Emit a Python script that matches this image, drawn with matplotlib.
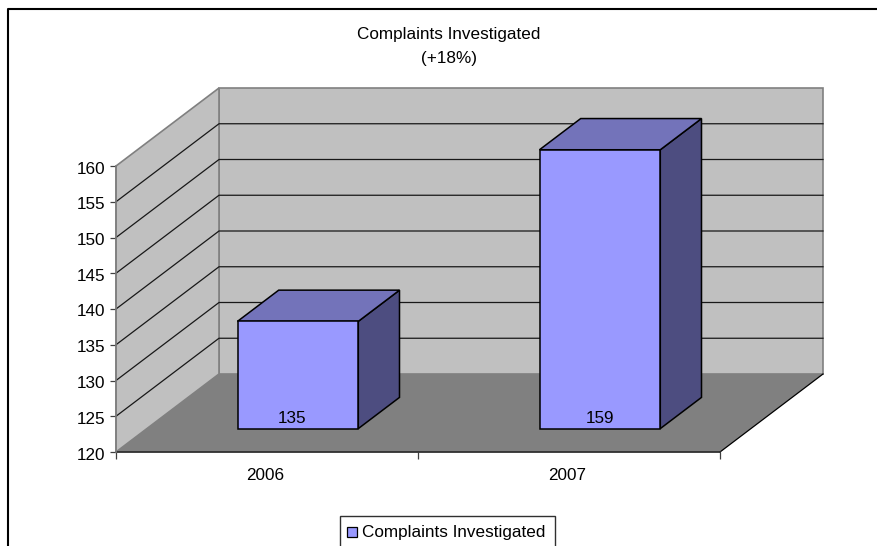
import matplotlib
matplotlib.use("Agg")
import matplotlib.pyplot as plt
from matplotlib.patches import Polygon, Rectangle
from matplotlib.transforms import ScaledTranslation

plt.rcParams["font.family"] = ["Liberation Sans", "DejaVu Sans"]

years = ["2006", "2007"]
complaints = [135, 159]
y_ticks = [120, 125, 130, 135, 140, 145, 150, 155, 160]
title_lines = ["Complaints Investigated", "(+18%)"]
series_name = "Complaints Investigated"

W, H = 877, 546
FONT = 12.3
fig = plt.figure(figsize=(W / 100, H / 100), dpi=100)

# axes covers the front plane of the 3d box, everything else is offset from it
ax = fig.add_axes([116 / W, 1 - 452 / H, 604 / W, 286 / H])
ax.set_xlim(0, len(years))
ax.set_ylim(y_ticks[0], y_ticks[-1])
ax.patch.set_visible(False)
for s in ax.spines.values():
    s.set_visible(False)

ymin, ymax = y_ticks[0], y_ticks[-1]
depth_x = 103 / 302
depth_y = 78 / 7.15


def poly(points, face, edge, lw=1.0, z=1):
    ax.add_patch(Polygon(points, closed=True, facecolor=face, edgecolor=edge,
                         linewidth=lw, zorder=z, clip_on=False, joinstyle="miter"))


def at_depth(x, y, d):
    return (x + d * depth_x, y + d * depth_y)


xmax = len(years)
# back wall, side wall, floor
poly([at_depth(0, ymin, 1), at_depth(xmax, ymin, 1), at_depth(xmax, ymax, 1), at_depth(0, ymax, 1)],
     "#c0c0c0", "#808080", 1.2)
poly([(0, ymin), at_depth(0, ymin, 1), at_depth(0, ymax, 1), (0, ymax)], "#c0c0c0", "#808080", 1.2)
poly([(0, ymin), (xmax, ymin), at_depth(xmax, ymin, 1), at_depth(0, ymin, 1)], "#808080", "none", 0)

# gridlines
for v in y_ticks[1:-1]:
    a, b, c = (0, v), at_depth(0, v, 1), at_depth(xmax, v, 1)
    ax.plot([a[0], b[0], c[0]], [a[1], b[1], c[1]], color="#181818", lw=0.9, zorder=2, clip_on=False)

# floor edges
b1, b2 = at_depth(xmax, ymin, 1), (xmax, ymin)
ax.plot([b2[0], b1[0]], [b2[1], b1[1]], color="black", lw=0.9, zorder=3, clip_on=False)
ax.plot([0, xmax], [ymin, ymin], color="#303030", lw=1.3, zorder=3, clip_on=False)
ax.plot([0, 0], [ymin, ymax], color="#808080", lw=1.2, zorder=3, clip_on=False)

# bars
bar_w = 0.4
d0, d1 = 0.3, 0.7
# the 2006 label sits a bit left of the bar centre in the original
label_shift = [-6, 0]
for i, val in enumerate(complaints):
    x0 = i + 0.5 - bar_w / 2
    x1 = x0 + bar_w
    f0 = at_depth(x0, ymin, d0)
    f1 = at_depth(x1, ymin, d0)
    top0 = at_depth(x0, val, d0)
    top1 = at_depth(x1, val, d0)
    back_top0 = at_depth(x0, val, d1)
    back_top1 = at_depth(x1, val, d1)
    back_bot1 = at_depth(x1, ymin, d1)
    poly([f1, back_bot1, back_top1, top1], "#4d4d80", "black", 1.1, 4)
    poly([top0, top1, back_top1, back_top0], "#7373ba", "black", 1.1, 4)
    poly([f0, f1, top1, top0], "#9999ff", "black", 1.1, 5)
    ax.annotate(str(val), ((f0[0] + f1[0]) / 2, f0[1]), xytext=(label_shift[i] * 0.72, 2.2),
                textcoords="offset points", ha="center", va="bottom",
                fontsize=FONT, color="black", zorder=6, annotation_clip=False)

ax.set_xticks(range(xmax + 1))
ax.set_xticklabels([])
ax.set_yticks(y_ticks)
ax.set_yticklabels([str(v) for v in y_ticks], fontsize=FONT)
ax.tick_params(axis="y", length=4.5, width=0.9, color="#404040", pad=3)
ax.tick_params(axis="x", length=5, width=0.9, color="#404040")
# y tick labels sit slightly under their ticks
nudge = ScaledTranslation(0, -1.5 / 100, fig.dpi_scale_trans)
for lab in ax.get_yticklabels():
    lab.set_transform(lab.get_transform() + nudge)
for i, y in enumerate(years):
    ax.annotate(y, (i + 0.5, ymin), xytext=(-1, -17), textcoords="offset points",
                ha="center", va="center", fontsize=FONT, annotation_clip=False)

fig.text(449 / W, 1 - 34 / H, title_lines[0], ha="center", va="center", fontsize=FONT)
fig.text(449 / W, 1 - 58 / H, title_lines[1], ha="center", va="center", fontsize=FONT)

# outer chart frame, left and top only are inside the crop
fig.add_artist(plt.Line2D([8 / W, 8 / W, 1],
                          [0, 1 - 9 / H, 1 - 9 / H], color="black", lw=1.5))

# legend box
fig.add_artist(Rectangle((340 / W, -2 / H), 215 / W, 32 / H, transform=fig.transFigure,
                         facecolor="white", edgecolor="#303030", lw=1))
fig.add_artist(Rectangle((347 / W, 1 - 537 / H), 10 / W, 10 / H, transform=fig.transFigure,
                         facecolor="#9999ff", edgecolor="black", lw=0.9))
fig.text(362 / W, 1 - 532 / H, series_name, ha="left", va="center", fontsize=FONT)

fig.savefig("out.png", dpi=100)
